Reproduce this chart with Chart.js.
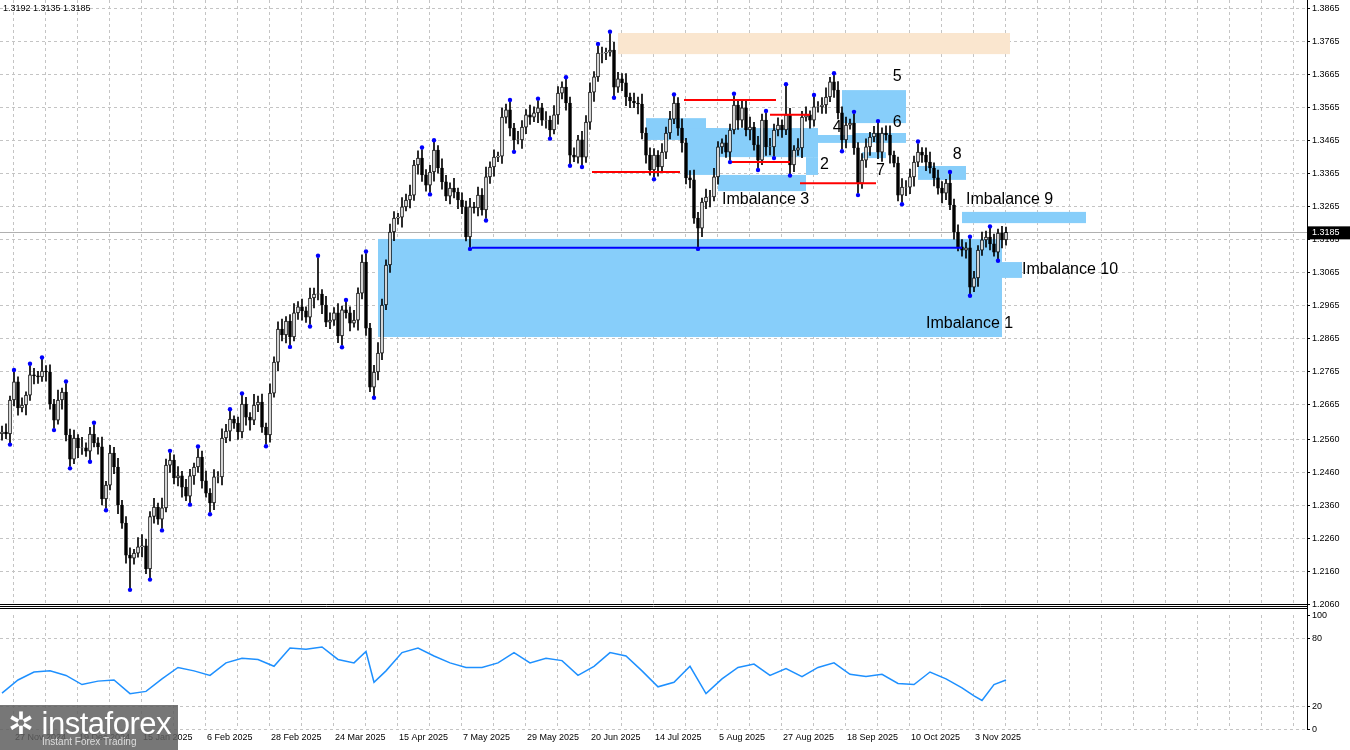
<!DOCTYPE html>
<html>
<head>
<meta charset="utf-8">
<script src="https://cdn.jsdelivr.net/npm/chart.js@4/dist/chart.umd.min.js"></script>
<style>
  body { margin: 0; background: #fff; width: 1350px; height: 750px; overflow: hidden; position: relative; font-family: "Liberation Sans", Arial, sans-serif; }
  #main { position: absolute; left: 0; top: 0; }
  #rsi { position: absolute; left: 0; top: 607px; }
  #logo { position: absolute; left: 0; top: 705px; width: 178px; height: 45px; background: rgba(95,95,95,0.85); color: #fff; }
  #logo .big { position: absolute; left: 8px; top: 0px; font-size: 31px; letter-spacing: -0.5px; }
  #logo .small { position: absolute; left: 42px; top: 31px; font-size: 10px; color: #ddd; }
  #hdr { position: absolute; left: 3px; top: 3px; font-size: 9px; color: #000; }
</style>
</head>
<body>
<canvas id="main" width="1350" height="607"></canvas>
<canvas id="rsi" width="1350" height="143"></canvas>
<div id="hdr">1.3192 1.3135 1.3185</div>
<div id="logo"><span class="big">✲ instaforex</span><span class="small">Instant Forex Trading</span></div>
<script>
// daily closes, Nov 2024 .. Nov 2025
const closes = [
  1.2580,1.2574,1.2677,1.2732,1.2653,1.2662,1.2692,1.2753,1.2750,1.2747,
  1.2765,1.2762,1.2665,1.2616,1.2677,1.2701,1.2571,1.2498,1.2562,1.2532,
  1.2532,1.2522,1.2574,1.2547,1.2535,1.2377,1.2419,1.2516,1.2474,1.2359,
  1.2304,1.2207,1.2198,1.2213,1.2232,1.2235,1.2165,1.2324,1.2353,1.2316,
  1.2350,1.2480,1.2495,1.2441,1.2447,1.2413,1.2386,1.2447,1.2474,1.2504,
  1.2432,1.2395,1.2365,1.2444,1.2444,1.2562,1.2583,1.2619,1.2607,1.2580,
  1.2665,1.2625,1.2616,1.2662,1.2671,1.2595,1.2571,1.2698,1.2792,1.2892,
  1.2874,1.2916,1.2868,1.2941,1.2959,1.2947,1.2928,1.2986,1.2998,1.2998,
  1.2965,1.2913,1.2919,1.2941,1.2871,1.2950,1.2941,1.2910,1.2919,1.3001,
  1.3095,1.2895,1.2716,1.2762,1.2819,1.2965,1.3086,1.3186,1.3228,1.3231,
  1.3262,1.3283,1.3298,1.3389,1.3410,1.3359,1.3328,1.3368,1.3434,1.3380,
  1.3338,1.3295,1.3319,1.3307,1.3283,1.3262,1.3171,1.3262,1.3259,1.3298,
  1.3253,1.3353,1.3383,1.3413,1.3416,1.3534,1.3556,1.3501,1.3465,1.3465,
  1.3504,1.3541,1.3534,1.3547,1.3562,1.3525,1.3525,1.3495,1.3541,1.3607,
  1.3625,1.3577,1.3419,1.3413,1.3465,1.3413,1.3519,1.3610,1.3656,1.3728,
  1.3728,1.3731,1.3737,1.3625,1.3650,1.3638,1.3595,1.3583,1.3577,1.3574,
  1.3486,1.3419,1.3374,1.3419,1.3383,1.3428,1.3486,1.3528,1.3577,1.3501,
  1.3456,1.3350,1.3344,1.3228,1.3198,1.3277,1.3292,1.3292,1.3353,1.3444,
  1.3456,1.3428,1.3495,1.3571,1.3525,1.3562,1.3495,1.3504,1.3450,1.3404,
  1.3525,1.3444,1.3444,1.3495,1.3510,1.3495,1.3541,1.3389,1.3434,1.3441,
  1.3534,1.3541,1.3525,1.3565,1.3565,1.3571,1.3595,1.3641,1.3616,1.3547,
  1.3465,1.3510,1.3516,1.3441,1.3334,1.3404,1.3444,1.3474,1.3486,1.3428,
  1.3486,1.3480,1.3419,1.3395,1.3298,1.3322,1.3322,1.3353,1.3398,1.3428,
  1.3419,1.3398,1.3380,1.3350,1.3319,1.3304,1.3334,1.3268,1.3186,1.3141,
  1.3131,1.3138,1.3019,1.3047,1.3131,1.3162,1.3171,1.3150,1.3125,1.3183,
  1.3162,1.3185
];
const firstOpen = 1.2575;
// wick lengths in pips above / below the body
const wickUp = [
  18,25,12,30,15,22,10,28,20,14,35,16,
  22,14,30,12,26,18,24,10,32,15,20,28,
  16,30,12,24,18,26,14,20,22,12,28,34,
  20,15,26,12,30,18,22,16,28,14,24,20,
  12,26,18,30,14,22,16,28,20,24,10,18,
  26,20,14,32,18,24,12,28,16,22,30,14,
  20,28,16,24,12,30,18,110,14,26,22,16,
  28,12,24,18,30,16,22,26,14,20,32,18,
  16,24,20,12,28,18,30,14,22,26,16,20,
  24,14,28,20,16,30,12,22,18,26,14,24,
  20,30,16,22,12,28,18,24,14,26,20,16,
  30,18,22,14,26,12,28,20,16,24,18,22,
  14,26,20,28,16,22,18,12,50,24,20,16,
  28,12,24,18,30,16,22,20,14,26,18,24,
  20,16,28,14,22,30,18,12,24,20,26,16,
  12,24,18,28,16,22,20,30,14,26,18,22,
  26,18,22,16,87,20,14,28,18,24,12,30,
  16,22,28,14,20,26,18,24,12,28,16,20,
  24,14,20,30,16,22,28,12,18,26,20,24,
  18,26,14,22,30,16,24,20,12,28,18,22,
  22,16,28,20,14,24,18,26,30,12,20,16
];
const wickDn = [
  20,14,26,18,22,12,30,16,24,20,14,28,
  16,24,12,28,18,22,14,30,20,16,26,12,
  22,18,28,14,20,26,16,24,90,18,12,30,
  14,26,20,16,28,12,22,18,24,30,14,20,
  26,16,22,12,28,20,18,24,14,30,16,22,
  18,24,30,14,20,16,28,22,12,26,18,24,
  24,12,20,28,16,22,30,18,26,14,20,16,
  20,28,16,24,12,30,18,22,14,26,24,20,
  14,22,26,18,30,12,24,16,28,20,18,22,
  28,16,22,14,24,18,26,20,12,30,16,24,
  16,26,20,28,14,22,18,24,30,12,26,20,
  22,14,30,16,24,20,12,28,18,22,26,14,
  18,24,16,22,28,14,30,20,12,26,16,24,
  26,20,14,30,18,24,16,22,28,12,20,18,
  14,22,28,18,24,16,57,26,20,30,12,22,
  20,16,24,12,28,22,18,30,16,24,14,26,
  24,28,18,22,14,26,20,16,30,12,24,18,
  16,20,26,14,22,18,28,24,12,20,30,16,
  22,26,14,20,28,16,24,12,18,22,26,20,
  28,14,22,26,16,24,18,30,20,14,22,12,
  18,24,20,14,26,16,22,18,12,20,24,16
];

const priceTicks = [1.2060,1.2160,1.2260,1.2360,1.2460,1.2560,1.2665,1.2765,1.2865,1.2965,1.3065,1.3165,1.3265,1.3365,1.3465,1.3565,1.3665,1.3765,1.3865];
const rsiTicks = [0, 20, 80, 100];
const dateIdx = [2.75,18.75,34.75,50.75,66.75,82.75,98.75,114.75,130.75,146.75,162.75,178.75,194.75,210.75,226.75,242.75];
const dateLabels = ["27 Nov 2024","19 Dec 2024","15 Jan 2025","6 Feb 2025","28 Feb 2025","24 Mar 2025","15 Apr 2025","7 May 2025","29 May 2025","20 Jun 2025","14 Jul 2025","5 Aug 2025","27 Aug 2025","18 Sep 2025","10 Oct 2025","3 Nov 2025"];

// RSI read at sampled candle indices
const rsiIdx = [0,4,8,12,16,20,24,28,32,36,40,44,48,52,56,60,64,68,72,76,80,84,88,91,93,96,
  100,104,108,112,116,120,124,128,132,136,140,144,148,152,156,160,164,168,172,176,180,184,188,192,196,200,204,208,212,216,220,224,228,232,236,240,243,245,248,251];
const rsiVal = [31.5,43,50,51,47,39,42,43,31,33,44,54,51,47,58,62,61,55,71,70,72,61,58,68,41,51,
  67,71,64,58,54,54,58,67,58,62,60,47,55,67,64,51,37,41,55,31,44,54,57,47,53,46,54,58,48,46,48,40,39,50,44,36,29,25,39,43];

// zones: [fromIdx, toIdx, top, bottom, colour]
const zones = [
  [94, 250, 1.3165, 1.2868, "#87cefa"],
  [154, 252, 1.3789, 1.3725, "#fae6cf"],
  [240, 271, 1.3247, 1.3213, "#87cefa"],
  [250, 255, 1.3095, 1.3047, "#87cefa"],
  [161, 176, 1.3531, 1.3465, "#87cefa"],
  [171, 179, 1.3501, 1.3359, "#87cefa"],
  [179, 201, 1.3359, 1.3310, "#87cefa"],
  [176, 204, 1.3501, 1.3413, "#87cefa"],
  [201, 204, 1.3413, 1.3359, "#87cefa"],
  [204, 213, 1.3480, 1.3456, "#87cefa"],
  [210, 226, 1.3616, 1.3516, "#87cefa"],
  [213, 226, 1.3486, 1.3456, "#87cefa"],
  [215, 221, 1.3428, 1.3410, "#87cefa"],
  [229, 241, 1.3386, 1.3344, "#87cefa"]
];
const redLines = [[147.5,169.5,1.3368],[170.5,193.5,1.3586],[182.5,197,1.3398],[192,202,1.3541],[199.5,218.5,1.3334]];
const blueLines = [[117.5,240,1.3138]];
const notes = [
  [180, 1.3283, "Imbalance 3"], [204.5, 1.3389, "2"], [207.7, 1.3501, "4"], [222.7, 1.3656, "5"],
  [222.7, 1.3519, "6"], [218.5, 1.3371, "7"], [237.7, 1.3422, "8"], [241, 1.3283, "Imbalance 9"],
  [255, 1.3071, "Imbalance 10"], [231, 1.2910, "Imbalance 1"]
];
const lastPrice = 1.3185;

const opens = closes.map((c, i) => i === 0 ? firstOpen : closes[i - 1]);
const highs = closes.map((c, i) => Math.max(c, opens[i]) + wickUp[i] / 10000);
const lows = closes.map((c, i) => Math.min(c, opens[i]) - wickDn[i] / 10000);

const X_MIN = -0.5, X_MAX = 326.25;
const FONT = "9px 'Liberation Sans', Arial";

function seg(ctx, x0, y0, x1, y1) {
  ctx.beginPath(); ctx.moveTo(x0, y0); ctx.lineTo(x1, y1); ctx.stroke();
}

function drawYLabels(ctx, a, y, vals, fmt) {
  ctx.fillStyle = "#000"; ctx.strokeStyle = "#000"; ctx.font = FONT; ctx.textBaseline = "middle";
  for (const v of vals) {
    const py = Math.round(y.getPixelForValue(v)) + 0.5;
    seg(ctx, a.right, py, a.right + 3, py);
    ctx.fillText(fmt(v), a.right + 5, py);
  }
}

const mainDecor = {
  id: "mainDecor",
  beforeDatasetsDraw(chart) {
    const { ctx, chartArea: a, scales: { x, y } } = chart;
    ctx.save();
    ctx.strokeStyle = "#c4c4c4"; ctx.lineWidth = 1; ctx.setLineDash([3, 3]);
    for (const v of priceTicks) { const py = Math.round(y.getPixelForValue(v)) + 0.5; seg(ctx, a.left, py, a.right, py); }
    for (let k = 2.75; k < X_MAX; k += 8) { const px = Math.round(x.getPixelForValue(k)) + 0.5; seg(ctx, px, a.top, px, a.bottom); }
    ctx.setLineDash([]);
    for (const [i0, i1, t, b, col] of zones) {
      const x0 = x.getPixelForValue(i0), x1 = x.getPixelForValue(i1);
      const y0 = y.getPixelForValue(t), y1 = y.getPixelForValue(b);
      ctx.fillStyle = col; ctx.fillRect(x0, y0, x1 - x0, y1 - y0);
    }
    ctx.strokeStyle = "#b0b0b0";
    const py = Math.round(y.getPixelForValue(lastPrice)) + 0.5;
    seg(ctx, a.left, py, a.right, py);
    ctx.restore();
  },
  afterDatasetsDraw(chart) {
    const { ctx, chartArea: a, scales: { x, y } } = chart;
    ctx.save();
    ctx.lineWidth = 2;
    ctx.strokeStyle = "#ff0000";
    for (const [i0, i1, p] of redLines) { const py = y.getPixelForValue(p); seg(ctx, x.getPixelForValue(i0), py, x.getPixelForValue(i1), py); }
    ctx.strokeStyle = "#0000ff";
    for (const [i0, i1, p] of blueLines) { const py = y.getPixelForValue(p); seg(ctx, x.getPixelForValue(i0), py, x.getPixelForValue(i1), py); }
    // fractal markers
    ctx.fillStyle = "#0000ff";
    for (let i = 2; i < closes.length - 2; i++) {
      const px = x.getPixelForValue(i);
      if (highs[i] > highs[i - 1] && highs[i] > highs[i - 2] && highs[i] > highs[i + 1] && highs[i] > highs[i + 2]) {
        ctx.beginPath(); ctx.arc(px, y.getPixelForValue(highs[i]) - 2, 2.2, 0, 7); ctx.fill();
      }
      if (lows[i] < lows[i - 1] && lows[i] < lows[i - 2] && lows[i] < lows[i + 1] && lows[i] < lows[i + 2]) {
        ctx.beginPath(); ctx.arc(px, y.getPixelForValue(lows[i]) + 2, 2.2, 0, 7); ctx.fill();
      }
    }
    ctx.fillStyle = "#000"; ctx.font = "16px 'Liberation Sans', Arial"; ctx.textBaseline = "middle";
    for (const [i, p, t] of notes) ctx.fillText(t, x.getPixelForValue(i), y.getPixelForValue(p));
    // frame
    ctx.strokeStyle = "#000"; ctx.lineWidth = 1;
    seg(ctx, a.right + 0.5, 0, a.right + 0.5, a.bottom + 3);
    seg(ctx, 0, a.bottom + 0.5, a.right, a.bottom + 0.5);
    seg(ctx, 0, a.bottom + 2.5, a.right, a.bottom + 2.5);
    drawYLabels(ctx, a, y, priceTicks, (v) => v.toFixed(4));
    const py = y.getPixelForValue(lastPrice);
    ctx.fillStyle = "#000"; ctx.fillRect(a.right + 1, py - 6, 42, 13);
    ctx.fillStyle = "#fff"; ctx.font = FONT; ctx.textBaseline = "middle";
    ctx.fillText(lastPrice.toFixed(4), a.right + 5, py);
    ctx.restore();
  }
};

new Chart(document.getElementById("main"), {
  type: "bar",
  data: {
    datasets: [
      {
        label: "wick",
        data: closes.map((c, i) => ({ x: i, y: [lows[i], highs[i]] })),
        backgroundColor: "#000", barThickness: 1, grouped: false, order: 2
      },
      {
        label: "body",
        data: closes.map((c, i) => ({ x: i, y: [opens[i], c === opens[i] ? c + 0.00005 : c] })),
        backgroundColor: closes.map((c, i) => c >= opens[i] ? "#fff" : "#000"),
        borderColor: "#000", borderWidth: 1, borderSkipped: false,
        barThickness: 3, grouped: false, order: 1
      }
    ]
  },
  options: {
    responsive: false, animation: false, devicePixelRatio: 1,
    layout: { padding: { top: 0, bottom: 3, left: 0, right: 0 } },
    plugins: { legend: { display: false }, tooltip: { enabled: false } },
    scales: {
      x: { type: "linear", offset: false, min: X_MIN, max: X_MAX, display: false },
      y: {
        position: "right", min: 1.2059, max: 1.3889,
        afterFit: (s) => { s.width = 43; },
        grid: { display: false }, border: { display: false },
        ticks: { display: false }
      }
    }
  },
  plugins: [mainDecor]
});

const rsiDecor = {
  id: "rsiDecor",
  beforeDatasetsDraw(chart) {
    const { ctx, chartArea: a, scales: { x, y } } = chart;
    ctx.save();
    ctx.strokeStyle = "#c4c4c4"; ctx.setLineDash([3, 3]); ctx.lineWidth = 1;
    for (const v of [80, 20, 0]) { const py = Math.round(y.getPixelForValue(v)) + 0.5; seg(ctx, a.left, py, a.right, py); }
    for (let k = 2.75; k < X_MAX; k += 8) { const px = Math.round(x.getPixelForValue(k)) + 0.5; seg(ctx, px, a.top, px, a.bottom); }
    ctx.restore();
  },
  afterDatasetsDraw(chart) {
    const { ctx, chartArea: a, scales: { x, y } } = chart;
    ctx.save();
    ctx.strokeStyle = "#000"; ctx.lineWidth = 1;
    seg(ctx, 0, 1.5, a.right + 1, 1.5);
    seg(ctx, a.right + 0.5, 0, a.right + 0.5, a.bottom);
    drawYLabels(ctx, a, y, rsiTicks, (v) => String(v));
    ctx.fillStyle = "#000"; ctx.font = FONT; ctx.textBaseline = "middle";
    dateIdx.forEach((i, k) => ctx.fillText(dateLabels[k], x.getPixelForValue(i) + 2, a.bottom + 9));
    ctx.restore();
  }
};

new Chart(document.getElementById("rsi"), {
  type: "line",
  data: {
    datasets: [{
      data: rsiIdx.map((i, k) => ({ x: i, y: rsiVal[k] })),
      borderColor: "#1e90ff", borderWidth: 1.5, pointRadius: 0, tension: 0
    }]
  },
  options: {
    responsive: false, animation: false, devicePixelRatio: 1,
    layout: { padding: { top: 8, bottom: 21, left: 0, right: 0 } },
    plugins: { legend: { display: false }, tooltip: { enabled: false } },
    scales: {
      x: { type: "linear", offset: false, min: X_MIN, max: X_MAX, display: false },
      y: {
        position: "right", min: 0, max: 100,
        afterFit: (s) => { s.width = 43; },
        grid: { display: false }, border: { display: false },
        ticks: { display: false }
      }
    }
  },
  plugins: [rsiDecor]
});
</script>
</body>
</html>
